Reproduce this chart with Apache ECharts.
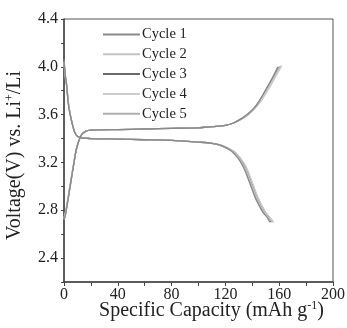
<!DOCTYPE html>
<html><head><meta charset="utf-8">
<script src="https://cdn.jsdelivr.net/npm/echarts@6/dist/echarts.min.js"></script>
<style>html,body{margin:0;padding:0;background:#fff}#c{width:347px;height:328px}</style>
</head><body><div id="c"></div>
<script>
const cycleNames = ['Cycle 1','Cycle 2','Cycle 3','Cycle 4','Cycle 5'];
const cycleColors = ['#8a8a8a','#c4c4c4','#6a6a6a','#cccccc','#b0b0b0'];
const xTicks = [0,40,80,120,160,200];
const yTicks = [2.4,2.8,3.2,3.6,4.0,4.4];

// charge branches [capacity, voltage]
const charge1 = [[0,2.72],[1,2.76],[3,2.89],[5,3.03],[7,3.17],[9,3.30],[11,3.38],[13,3.43],[16,3.46],[20,3.47],[40,3.475],[60,3.48],[80,3.485],[100,3.49],[110,3.50],[120,3.51],[126,3.53],[131,3.56],[136,3.60],[141,3.65],[145,3.71],[150,3.81],[155,3.91],[159,4.00]];
const charge2 = [[0,2.73],[1,2.77],[3,2.90],[5,3.04],[7,3.18],[9,3.30],[11,3.38],[13,3.43],[16,3.46],[20,3.47],[40,3.475],[60,3.48],[80,3.485],[100,3.49],[110,3.50],[120,3.51],[126,3.53],[131,3.56],[136,3.60],[141,3.65],[146,3.72],[151,3.81],[156,3.91],[161,4.01]];
const charge3 = [[0,2.72],[1,2.76],[3,2.89],[5,3.03],[7,3.17],[9,3.30],[11,3.38],[13,3.43],[16,3.46],[20,3.47],[40,3.475],[60,3.48],[80,3.485],[100,3.49],[110,3.50],[120,3.51],[126,3.53],[131,3.56],[136,3.60],[141,3.65],[145,3.71],[150,3.80],[155,3.90],[160,4.00]];
const charge4 = [[0,2.74],[1,2.78],[3,2.91],[5,3.05],[7,3.18],[9,3.31],[11,3.38],[13,3.43],[16,3.46],[20,3.47],[40,3.475],[60,3.48],[80,3.485],[100,3.49],[110,3.50],[120,3.51],[126,3.53],[132,3.56],[137,3.60],[142,3.65],[147,3.72],[152,3.81],[157,3.91],[162,4.01]];
const charge5 = [[0,2.73],[1,2.77],[3,2.90],[5,3.04],[7,3.17],[9,3.30],[11,3.38],[13,3.43],[16,3.46],[20,3.47],[40,3.475],[60,3.48],[80,3.485],[100,3.49],[110,3.50],[120,3.51],[126,3.53],[131,3.56],[137,3.60],[142,3.66],[146,3.72],[151,3.81],[156,3.91],[161,4.00]];

// discharge branches [capacity, voltage]
const discharge1 = [[0,4.06],[1,3.93],[2,3.85],[3,3.71],[4,3.63],[6,3.53],[8,3.45],[10,3.42],[13,3.405],[20,3.40],[40,3.395],[60,3.39],[80,3.385],[100,3.37],[110,3.36],[116,3.345],[121,3.32],[125,3.29],[129,3.24],[132,3.19],[135,3.12],[137,3.06],[140,2.97],[142,2.91],[145,2.84],[148,2.78],[151,2.74],[153,2.70]];
const discharge2 = [[0,4.04],[1,3.92],[2,3.84],[3,3.72],[4,3.64],[6,3.53],[8,3.45],[10,3.42],[13,3.405],[20,3.40],[40,3.395],[60,3.39],[80,3.385],[100,3.37],[110,3.36],[116,3.345],[121,3.32],[126,3.29],[130,3.24],[133,3.19],[136,3.12],[138,3.06],[141,2.97],[143,2.91],[146,2.84],[149,2.78],[152,2.74],[155,2.70]];
const discharge3 = [[0,4.05],[1,3.92],[2,3.84],[3,3.72],[4,3.64],[6,3.53],[8,3.45],[10,3.42],[13,3.405],[20,3.40],[40,3.395],[60,3.39],[80,3.385],[100,3.37],[110,3.36],[116,3.345],[121,3.32],[126,3.29],[130,3.24],[133,3.19],[136,3.12],[138,3.06],[141,2.97],[143,2.91],[146,2.84],[149,2.78],[152,2.74],[154,2.70]];
const discharge4 = [[0,4.03],[1,3.91],[2,3.83],[3,3.72],[4,3.64],[6,3.53],[8,3.45],[10,3.42],[13,3.405],[20,3.40],[40,3.395],[60,3.39],[80,3.385],[100,3.37],[110,3.36],[117,3.345],[122,3.32],[127,3.29],[131,3.24],[134,3.19],[137,3.12],[139,3.06],[142,2.97],[144,2.91],[147,2.84],[150,2.78],[153,2.74],[156,2.70]];
const discharge5 = [[0,4.04],[1,3.92],[2,3.84],[3,3.72],[4,3.64],[6,3.53],[8,3.45],[10,3.42],[13,3.405],[20,3.40],[40,3.395],[60,3.39],[80,3.385],[100,3.37],[110,3.36],[117,3.345],[122,3.32],[126,3.29],[130,3.24],[134,3.19],[137,3.12],[139,3.06],[142,2.97],[144,2.91],[147,2.84],[150,2.78],[153,2.74],[155,2.70]];

const charges = [charge1,charge2,charge3,charge4,charge5];
const discharges = [discharge1,discharge2,discharge3,discharge4,discharge5];

const FONT = '"Liberation Serif","Times New Roman",serif';
const series = [];
cycleNames.forEach((n,i)=>{
  [charges[i], discharges[i]].forEach(d=>{
    series.push({name:n,type:'line',data:d,symbol:'none',smooth:0.3,
      lineStyle:{color:cycleColors[i],width:1.3},itemStyle:{color:cycleColors[i]},z:5-i});
  });
});

const chart = echarts.init(document.getElementById('c'),null,{renderer:'canvas'});
chart.setOption({
  animation:false,
  backgroundColor:'#fff',
  grid:{left:64,right:14,top:19,bottom:46,containLabel:false,outerBoundsMode:'none',
    show:true,borderColor:'#555',borderWidth:1},
  legend:{orient:'vertical',left:102,top:27,padding:0,itemWidth:37,itemHeight:14,itemGap:4.8,
    itemStyle:{opacity:0},
    data:cycleNames,textStyle:{fontFamily:FONT,fontSize:14.5,color:'#222',padding:[0,0,0,-3]}},
  xAxis:{type:'value',min:0,max:200,interval:20,
    name:'Specific Capacity (mAh g{sup|-1})',nameLocation:'middle',nameGap:18,nameMoveOverlap:false,
    nameTextStyle:{fontFamily:FONT,fontSize:20,color:'#222',padding:[0,0,0,26],
      rich:{sup:{fontFamily:FONT,fontSize:12,verticalAlign:'top',color:'#222',padding:[0,0,9,0]}}},
    axisLine:{onZero:false,lineStyle:{color:'#444',width:1.5}},
    axisTick:{inside:false,length:4,lineStyle:{color:'#444'}},
    splitLine:{show:false},
    axisLabel:{fontFamily:FONT,fontSize:16,color:'#222',margin:5,
      formatter:v=>xTicks.indexOf(Math.round(v))>=0?String(Math.round(v)):''}},
  yAxis:{type:'value',min:2.2,max:4.4,interval:0.2,
    name:'Voltage(V) vs. Li{sup|+}/Li',nameLocation:'middle',nameGap:39,nameMoveOverlap:false,
    nameTextStyle:{fontFamily:FONT,fontSize:20,color:'#222',padding:[0,10,0,0],
      rich:{sup:{fontFamily:FONT,fontSize:12,verticalAlign:'top',color:'#222',padding:[0,0,9,0]}}},
    axisLine:{onZero:false,lineStyle:{color:'#444',width:1.5}},
    axisTick:{inside:false,length:3,lineStyle:{color:'#444'}},
    splitLine:{show:false},
    axisLabel:{fontFamily:FONT,fontSize:16,color:'#222',margin:6,
      formatter:v=>{const k=Math.round(v*10);const t=yTicks.find(y=>Math.round(y*10)===k);return t!==undefined?t.toFixed(1):'';}}},
  series:series
});
</script></body></html>
